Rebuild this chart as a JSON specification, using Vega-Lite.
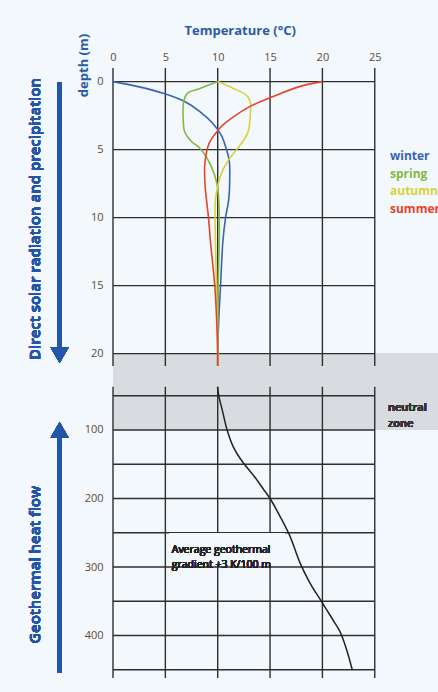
{
  "$schema": "https://vega.github.io/schema/vega-lite/v6.json",
  "width": 325,
  "height": 610,
  "autosize": {"type": "none"},
  "padding": {"left": 113, "top": 68, "right": 0, "bottom": 14},
  "background": "#f3f8fd",
  "config": {"view": {"stroke": null}, "font": "Open Sans"},
  "datasets": {
    "seasons": [
      {"season": "winter", "depth": 0, "temp": 0},
      {"season": "winter", "depth": 0.37, "temp": 2.4},
      {"season": "winter", "depth": 0.86, "temp": 4.8},
      {"season": "winter", "depth": 1.45, "temp": 6.8},
      {"season": "winter", "depth": 2.2, "temp": 8.3},
      {"season": "winter", "depth": 3.05, "temp": 9.5},
      {"season": "winter", "depth": 3.95, "temp": 10.35},
      {"season": "winter", "depth": 4.9, "temp": 10.8},
      {"season": "winter", "depth": 5.8, "temp": 11.1},
      {"season": "winter", "depth": 7.0, "temp": 11.15},
      {"season": "winter", "depth": 8.7, "temp": 11.05},
      {"season": "winter", "depth": 10, "temp": 10.75},
      {"season": "winter", "depth": 11.7, "temp": 10.5},
      {"season": "winter", "depth": 15, "temp": 10.27},
      {"season": "winter", "depth": 17.5, "temp": 10.1},
      {"season": "winter", "depth": 20, "temp": 10.0},
      {"season": "winter", "depth": 20.9, "temp": 10.0},
      {"season": "spring", "depth": 0, "temp": 10},
      {"season": "spring", "depth": 0.5, "temp": 8.3},
      {"season": "spring", "depth": 0.86, "temp": 7.1},
      {"season": "spring", "depth": 1.47, "temp": 6.75},
      {"season": "spring", "depth": 2.6, "temp": 6.7},
      {"season": "spring", "depth": 3.7, "temp": 6.85},
      {"season": "spring", "depth": 4.4, "temp": 7.5},
      {"season": "spring", "depth": 4.9, "temp": 8.3},
      {"season": "spring", "depth": 5.8, "temp": 9.1},
      {"season": "spring", "depth": 6.75, "temp": 9.65},
      {"season": "spring", "depth": 7.6, "temp": 9.95},
      {"season": "spring", "depth": 8.7, "temp": 10.1},
      {"season": "spring", "depth": 10, "temp": 10.15},
      {"season": "spring", "depth": 11.7, "temp": 10.15},
      {"season": "spring", "depth": 15, "temp": 10.04},
      {"season": "spring", "depth": 17.5, "temp": 10.02},
      {"season": "spring", "depth": 20, "temp": 10},
      {"season": "spring", "depth": 20.9, "temp": 10},
      {"season": "autumn", "depth": 0, "temp": 10},
      {"season": "autumn", "depth": 0.5, "temp": 11.5},
      {"season": "autumn", "depth": 1.0, "temp": 12.75},
      {"season": "autumn", "depth": 1.47, "temp": 13.1},
      {"season": "autumn", "depth": 2.6, "temp": 13.1},
      {"season": "autumn", "depth": 3.7, "temp": 12.9},
      {"season": "autumn", "depth": 4.4, "temp": 12.4},
      {"season": "autumn", "depth": 5.0, "temp": 11.8},
      {"season": "autumn", "depth": 5.8, "temp": 11.0},
      {"season": "autumn", "depth": 6.75, "temp": 10.35},
      {"season": "autumn", "depth": 7.7, "temp": 10.0},
      {"season": "autumn", "depth": 8.7, "temp": 9.78},
      {"season": "autumn", "depth": 10, "temp": 9.75},
      {"season": "autumn", "depth": 11.7, "temp": 9.78},
      {"season": "autumn", "depth": 15, "temp": 9.88},
      {"season": "autumn", "depth": 17.5, "temp": 9.95},
      {"season": "autumn", "depth": 20, "temp": 10},
      {"season": "autumn", "depth": 20.9, "temp": 10},
      {"season": "summer", "depth": 0, "temp": 20},
      {"season": "summer", "depth": 0.37, "temp": 17.8},
      {"season": "summer", "depth": 1.1, "temp": 15.3},
      {"season": "summer", "depth": 1.84, "temp": 13.05},
      {"season": "summer", "depth": 2.6, "temp": 11.5},
      {"season": "summer", "depth": 3.3, "temp": 10.35},
      {"season": "summer", "depth": 3.9, "temp": 9.7},
      {"season": "summer", "depth": 4.5, "temp": 9.2},
      {"season": "summer", "depth": 5.3, "temp": 8.9},
      {"season": "summer", "depth": 6.3, "temp": 8.75},
      {"season": "summer", "depth": 7.7, "temp": 8.8},
      {"season": "summer", "depth": 8.7, "temp": 8.93},
      {"season": "summer", "depth": 10, "temp": 9.12},
      {"season": "summer", "depth": 11.7, "temp": 9.3},
      {"season": "summer", "depth": 15, "temp": 9.72},
      {"season": "summer", "depth": 17.5, "temp": 9.9},
      {"season": "summer", "depth": 20, "temp": 10},
      {"season": "summer", "depth": 20.9, "temp": 10}
    ],
    "geo": [
      {"depth": 37, "temp": 9.98},
      {"depth": 50, "temp": 10.1},
      {"depth": 75, "temp": 10.5},
      {"depth": 100, "temp": 10.9},
      {"depth": 125, "temp": 11.5},
      {"depth": 145, "temp": 12.3},
      {"depth": 168, "temp": 13.5},
      {"depth": 185, "temp": 14.3},
      {"depth": 200, "temp": 15.0},
      {"depth": 226, "temp": 15.95},
      {"depth": 255, "temp": 16.9},
      {"depth": 294, "temp": 17.86},
      {"depth": 323, "temp": 18.8},
      {"depth": 350, "temp": 19.9},
      {"depth": 377, "temp": 21.0},
      {"depth": 394, "temp": 21.67},
      {"depth": 420, "temp": 22.3},
      {"depth": 450, "temp": 22.85}
    ],
    "vgrid": [{"temp": 0}, {"temp": 5}, {"temp": 10}, {"temp": 15}, {"temp": 20}, {"temp": 25}],
    "hgrid": [
      {"depth": 0}, {"depth": 5}, {"depth": 10}, {"depth": 15}, {"depth": 20},
      {"depth": 50}, {"depth": 100}, {"depth": 150}, {"depth": 200}, {"depth": 250},
      {"depth": 300}, {"depth": 350}, {"depth": 400}, {"depth": 450}
    ]
  },
  "layer": [
    {
      "data": {"name": "seasons"},
      "mark": {"type": "rect", "color": "#d8dbdf"},
      "encoding": {
        "x": {"datum": 0, "type": "quantitative", "scale": {"domain": [0, 31.04], "nice": false, "zero": false}},
        "x2": {"datum": 31.04},
        "y": {"datum": 20, "type": "quantitative", "scale": {"domain": [-1, 20.9, 37, 462], "range": [0, 297.9, 318.8, 610], "nice": false, "zero": false}},
        "y2": {"datum": 100}
      }
    },
    {
      "data": {"name": "vgrid"},
      "mark": {"type": "rule", "color": "#2e2e2e", "strokeWidth": 1.4},
      "encoding": {
        "x": {"field": "temp", "type": "quantitative"},
        "y": {"datum": -1, "type": "quantitative"},
        "y2": {"datum": 20.9}
      }
    },
    {
      "data": {"name": "vgrid"},
      "mark": {"type": "rule", "color": "#2e2e2e", "strokeWidth": 1.4},
      "encoding": {
        "x": {"field": "temp", "type": "quantitative"},
        "y": {"datum": 37, "type": "quantitative"},
        "y2": {"datum": 462}
      }
    },
    {
      "data": {"name": "hgrid"},
      "mark": {"type": "rule", "color": "#2e2e2e", "strokeWidth": 1.4},
      "encoding": {
        "y": {"field": "depth", "type": "quantitative"},
        "x": {"datum": 0, "type": "quantitative"},
        "x2": {"datum": 25}
      }
    },
    {
      "data": {"name": "geo"},
      "mark": {"type": "rect", "color": "#f3f8fd"},
      "encoding": {
        "x": {"datum": 5.4, "type": "quantitative"},
        "x2": {"datum": 16.4},
        "y": {"datum": 251.5, "type": "quantitative"},
        "y2": {"datum": 296.5}
      }
    },
    {
      "data": {"name": "seasons"},
      "mark": {"type": "line", "strokeWidth": 1.6, "interpolate": "catmull-rom"},
      "encoding": {
        "x": {
          "field": "temp", "type": "quantitative",
          "axis": {
            "orient": "top", "values": [0, 5, 10, 15, 20, 25], "domain": false, "ticks": false, "tickSize": 0,
            "grid": false, "labelPadding": 6, "labelFontSize": 11, "labelColor": "#5e4a36", "labelFlush": false,
            "labelOverlap": false, "labelFont": "Open Sans",
            "title": "Temperature (°C)", "titleColor": "#2b5aa8", "titleFontSize": 13, "titleFontWeight": "bold",
            "titleFont": "Open Sans", "titleX": 126.7, "titleY": -38, "titleBaseline": "middle", "titleAlign": "center"
          }
        },
        "y": {
          "field": "depth", "type": "quantitative",
          "axis": {
            "values": [0, 5, 10, 15, 20, 100, 200, 300, 400], "domain": false, "ticks": false, "tickSize": 0,
            "grid": false, "labelPadding": 10, "labelFontSize": 11, "labelColor": "#5e4a36", "labelFlush": false,
            "labelOverlap": false, "labelFont": "Open Sans",
            "title": "depth (m)", "titleColor": "#2b5aa8", "titleFontSize": 13, "titleFontWeight": "bold",
            "titleFont": "Open Sans", "titleAngle": 270, "titleX": -30, "titleY": -3, "titleAlign": "center", "titleBaseline": "middle"
          }
        },
        "order": {"field": "depth", "type": "quantitative"},
        "color": {
          "field": "season", "type": "nominal",
          "scale": {"domain": ["winter", "spring", "autumn", "summer"], "range": ["#3a62b5", "#84b740", "#d8d13d", "#e6432b"]},
          "legend": {
            "orient": "none", "legendX": 265, "legendY": 82, "title": null,
            "symbolSize": 0, "symbolOpacity": 0, "symbolStrokeWidth": 0, "labelOffset": 0,
            "labelFontSize": 12, "labelFontWeight": "bold", "labelFont": "Open Sans", "rowPadding": 5.5, "padding": 0,
            "encode": {"labels": {"update": {"fill": {"scale": "color", "field": "value"}}}}
          }
        }
      }
    },
    {
      "data": {"name": "geo"},
      "mark": {"type": "line", "strokeWidth": 1.5, "color": "#222222", "interpolate": "catmull-rom"},
      "encoding": {
        "x": {"field": "temp", "type": "quantitative"},
        "y": {"field": "depth", "type": "quantitative"},
        "order": {"field": "depth", "type": "quantitative"}
      }
    },
    {
      "data": {"name": "geo"},
      "mark": {"type": "text", "align": "left", "baseline": "middle", "fontSize": 10.5, "fontWeight": "normal", "lineHeight": 15, "color": "#222222", "font": "Open Sans", "text": ["Average geothermal", "gradient +3 K/100 m"]},
      "encoding": {
        "x": {"datum": 5.61, "type": "quantitative"},
        "y": {"datum": 274.6, "type": "quantitative"}
      }
    },
    {
      "data": {"name": "geo"},
      "mark": {"type": "text", "align": "left", "baseline": "middle", "fontSize": 11, "fontWeight": 600, "lineHeight": 16, "color": "#333333", "font": "Open Sans", "text": ["neutral", "zone"]},
      "encoding": {
        "x": {"datum": 26.26, "type": "quantitative"},
        "y": {"datum": 67.9, "type": "quantitative"}
      }
    },
    {
      "data": {"name": "geo"},
      "mark": {"type": "text", "align": "center", "baseline": "middle", "angle": 270, "fontSize": 15, "fontWeight": 600, "color": "#2356a8", "font": "Open Sans", "text": "Direct solar radiation and precipitation"},
      "encoding": {
        "x": {"datum": -7.49, "type": "quantitative"},
        "y": {"datum": 10.1, "type": "quantitative"}
      }
    },
    {
      "data": {"name": "geo"},
      "mark": {"type": "text", "align": "center", "baseline": "middle", "angle": 270, "fontSize": 15, "fontWeight": 600, "color": "#2356a8", "font": "Open Sans", "text": "Geothermal heat flow"},
      "encoding": {
        "x": {"datum": -7.49, "type": "quantitative"},
        "y": {"datum": 296.8, "type": "quantitative"}
      }
    },
    {
      "data": {"name": "geo"},
      "mark": {"type": "rule", "strokeWidth": 4, "color": "#2356a8"},
      "encoding": {
        "x": {"datum": -5.1, "type": "quantitative"},
        "y": {"datum": 0.07, "type": "quantitative"},
        "y2": {"datum": 19.7}
      }
    },
    {
      "data": {"name": "geo"},
      "mark": {"type": "point", "shape": "triangle-down", "size": 330, "filled": true, "opacity": 1, "color": "#2356a8", "strokeWidth": 0},
      "encoding": {
        "x": {"datum": -5.1, "type": "quantitative"},
        "y": {"datum": 20.1, "type": "quantitative"}
      }
    },
    {
      "data": {"name": "geo"},
      "mark": {"type": "rule", "strokeWidth": 4, "color": "#2356a8"},
      "encoding": {
        "x": {"datum": -5.1, "type": "quantitative"},
        "y": {"datum": 108, "type": "quantitative"},
        "y2": {"datum": 454.7}
      }
    },
    {
      "data": {"name": "geo"},
      "mark": {"type": "point", "shape": "triangle-up", "size": 330, "filled": true, "opacity": 1, "color": "#2356a8", "strokeWidth": 0},
      "encoding": {
        "x": {"datum": -5.1, "type": "quantitative"},
        "y": {"datum": 100, "type": "quantitative"}
      }
    }
  ]
}
